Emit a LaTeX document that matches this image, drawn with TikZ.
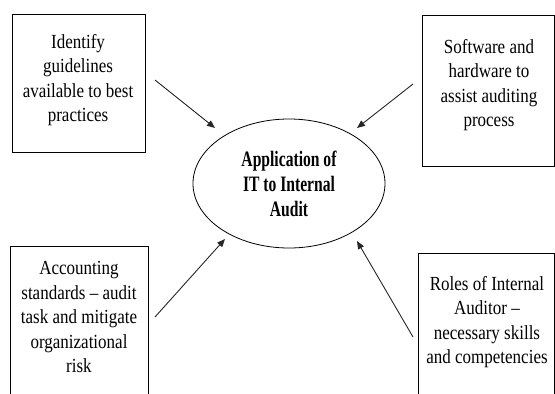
\documentclass[tikz,border=0pt]{standalone}
\usepackage{fontspec}
\newfontfamily\boxfont{Liberation Serif}[FakeStretch=0.85, Ligatures=TeX]
\newfontfamily\appfont{Liberation Serif}[FakeStretch=0.71, Ligatures=TeX]
\usetikzlibrary{positioning,arrows.meta,shapes.geometric}
\tikzset{
  flowarrow/.style={-{Triangle[length=8pt, width=6.5pt]}, line width=0.9pt, draw=black!85},
  framebox/.style={draw, line width=0.8pt, inner sep=0pt},
  boxtext/.style={font=\boxfont\fontsize{20}{24.5}\selectfont, align=center, inner sep=0pt, anchor=north},
  appnode/.style={draw, ellipse, line width=0.8pt, inner sep=0pt, minimum width=192pt, minimum height=129pt,
    align=center, font=\appfont\bfseries\fontsize{22}{25}\selectfont}
}
\begin{document}
\begin{tikzpicture}[x=1pt, y=-1pt]
  \useasboundingbox (0,0) rectangle (555,394);
  \clip (0,0) rectangle (555,394);
  % central idea
  \node[appnode] (app) at (289,183.5) {Application of\\IT to Internal\\Audit};
  % four boxes round it
  \node[framebox, minimum width=133pt, minimum height=138pt] (guide) at (78.5,83) {};
  \node[boxtext] (guide text) at (78,34) {Identify\\guidelines\\available to best\\practices};
  \node[framebox, minimum width=132.5pt, minimum height=151pt] (soft) at (488.2,90.5) {};
  \node[boxtext] (soft text) at (489,39) {Software and\\hardware to\\assist auditing\\process};
  \node[framebox, minimum width=138pt, minimum height=160pt] (acct) at (79,326) {};
  \node[boxtext] (acct text) at (79,261.5) {Accounting\\standards – audit\\task and mitigate\\organizational\\risk};
  \node[framebox, minimum width=136.5pt, minimum height=160pt] (role) at (486.2,333) {};
  \node[boxtext] (role text) at (487,276) {Roles of Internal\\Auditor –\\necessary skills\\and competencies};
  % arrow ends, free of the shapes
  \coordinate (guide out) at (155,80);  \coordinate (guide in) at (215,128);
  \coordinate (soft out) at (413,84);   \coordinate (soft in) at (357,128);
  \coordinate (acct out) at (155,317);  \coordinate (acct in) at (225,239);
  \coordinate (role out) at (413,337);  \coordinate (role in) at (357,241);
  \draw[flowarrow] (guide out) -- (guide in);
  \draw[flowarrow] (soft out) -- (soft in);
  \draw[flowarrow] (acct out) -- (acct in);
  \draw[flowarrow] (role out) -- (role in);
\end{tikzpicture}
\end{document}
